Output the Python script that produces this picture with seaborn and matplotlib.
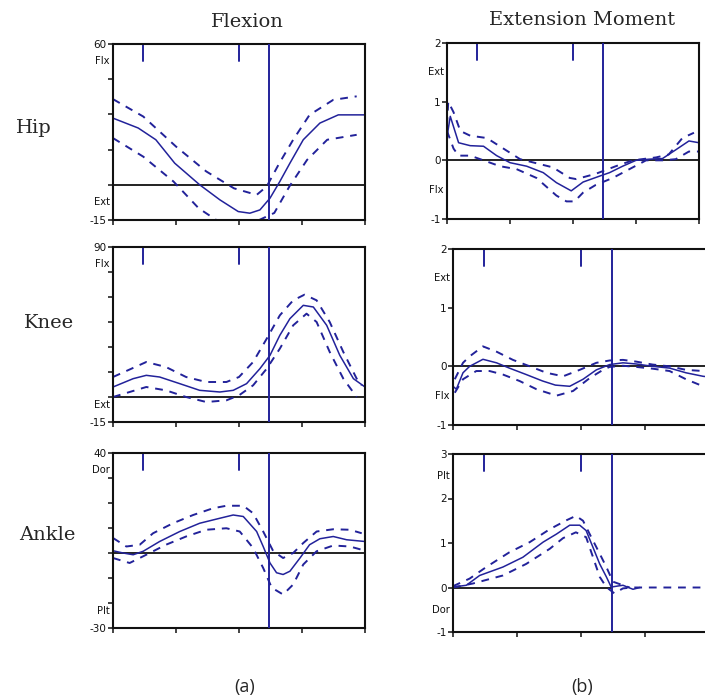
import numpy as np
import pandas as pd
import seaborn as sns
import matplotlib
matplotlib.use("Agg")
import matplotlib.pyplot as plt
import matplotlib.transforms as mtransforms

sns.set_style("white")
plt.rcParams["font.family"] = ["DejaVu Sans"]

NAVY = "#22229a"

# ---------------- Hip flexion (deg) ----------------
hip_flex_x_mean = [0, 10, 17, 24.5, 34.4, 42.4, 49.7, 54.3, 58.3, 62.3, 66.2, 70.2, 75.5, 82.1, 89.4, 100]
hip_flex_mean = [28.4, 24.2, 19.2, 9.2, 0.0, -6.4, -11.4, -12.1, -10.7, -5.7, 1.4, 9.2, 19.2, 26.3, 29.8, 29.8]
hip_flex_x_hi = [0, 12, 25, 37, 48, 57, 61, 66, 71.5, 78, 87.4, 96.7]
hip_flex_hi = [36.5, 29.1, 16.3, 5.7, -1.5, -4.3, -0.7, 9.2, 19.2, 29.8, 36.2, 37.7]
hip_flex_x_lo = [0, 12, 24, 34, 41, 50, 58, 64, 70, 77, 85, 96.7]
hip_flex_lo = [19.9, 12.0, 1.4, -10.0, -15.0, -15.0, -15.0, -12.0, -0.7, 10.6, 19.2, 21.3]

# ---------------- Hip moment ----------------
hip_mom_x_mean = [0, 1.3, 4.6, 9.2, 14.5, 19.7, 25, 31.6, 38.2, 43.4, 49.3, 54, 60.5, 64.5, 69.7, 75, 80.3, 85.5, 90.8, 96, 100]
hip_mom_mean = [0.4, 0.75, 0.3, 0.25, 0.24, 0.08, -0.04, -0.1, -0.21, -0.38, -0.52, -0.37, -0.27, -0.21, -0.1, 0.0, 0.02, 0.03, 0.18, 0.33, 0.3]
hip_mom_x_hi = [0, 0.5, 2.6, 5.3, 9.2, 15.8, 22.4, 29, 35.5, 42, 48.7, 51.3, 59, 67, 73.7, 83, 88, 93.4, 98]
hip_mom_hi = [0.6, 1.0, 0.82, 0.5, 0.42, 0.38, 0.2, 0.02, -0.05, -0.12, -0.3, -0.32, -0.23, -0.1, 0.0, 0.05, 0.1, 0.38, 0.47]
hip_mom_x_lo = [0, 2.6, 4.6, 9.2, 14.5, 21, 27.6, 35.5, 43.4, 47.4, 50.6, 54, 59, 65.8, 72.4, 79, 85.5, 90.8, 96, 100]
hip_mom_lo = [0.5, 0.2, 0.08, 0.08, 0.0, -0.1, -0.15, -0.3, -0.6, -0.7, -0.7, -0.55, -0.42, -0.3, -0.15, 0.0, 0.0, 0.02, 0.15, 0.15]

# ---------------- Knee flexion (deg) ----------------
knee_flex_x_mean = [0, 8, 13.2, 18.5, 26.5, 34.4, 42.4, 47.7, 53, 58.3, 62.3, 66.2, 70.2, 75.5, 79.5, 84.8, 90, 95.4, 100]
knee_flex_mean = [6, 11, 13, 12, 8, 4, 3, 4, 8, 17, 25, 37, 47, 55, 54, 43, 25, 11, 6]
knee_flex_x_hi = [0, 13.2, 21, 29, 37, 45, 50, 55.6, 61, 66.2, 71.5, 76, 80.8, 86, 91.4, 96.7, 98.7]
knee_flex_hi = [12, 21, 18, 12, 9, 9, 12, 21, 35, 49, 58, 61.4, 58, 45, 27, 11, 7]
knee_flex_x_lo = [0, 13.2, 21, 29, 37, 45, 50, 55.6, 61, 66.2, 71.5, 76.8, 80.8, 86, 91.4, 96.7]
knee_flex_lo = [0, 6, 4, 0, -3, -2, 1, 7, 17, 29, 43, 50, 45, 27, 11, 0]

# ---------------- Knee moment ----------------
knee_mom_x_mean = [0, 1.3, 3.9, 6.5, 11.7, 17, 22, 28.6, 35, 40, 45.6, 50.8, 56, 61.2, 66.4, 71.6, 78, 84.6, 91, 97.7, 100]
knee_mom_mean = [-0.34, -0.39, -0.11, 0.0, 0.12, 0.06, -0.03, -0.14, -0.25, -0.32, -0.34, -0.22, -0.06, 0.03, 0.06, 0.04, 0.0, -0.03, -0.11, -0.17, -0.18]
knee_mom_x_hi = [0.7, 3.9, 6.5, 11.7, 17, 23.4, 30, 36.5, 43, 49.5, 56, 61.2, 66.4, 71.6, 78, 84.6, 91, 97.7, 100]
knee_mom_hi = [-0.22, 0.06, 0.17, 0.34, 0.25, 0.11, 0.0, -0.11, -0.17, -0.06, 0.06, 0.1, 0.11, 0.08, 0.03, 0.0, -0.06, -0.08, -0.1]
knee_mom_x_lo = [0.7, 3.9, 9.1, 14.3, 19.5, 26, 32.6, 40.4, 46.9, 53.4, 58.6, 61.2, 66.4, 71.6, 78, 84.6, 91, 97.7, 100]
knee_mom_lo = [-0.45, -0.22, -0.08, -0.08, -0.14, -0.25, -0.39, -0.5, -0.42, -0.2, -0.06, -0.01, 0.01, -0.01, -0.04, -0.08, -0.22, -0.34, -0.36]

# ---------------- Ankle flexion (deg) ----------------
ankle_flex_x_mean = [0, 4, 8, 12, 18.5, 26.5, 34.4, 42.4, 47.7, 51.7, 57, 59.6, 62.3, 64.9, 67.5, 70.2, 74.2, 78, 82.1, 87.4, 92.7, 100]
ankle_flex_mean = [0.9, 0.0, -0.7, 0.7, 4.6, 8.6, 11.9, 13.9, 15.2, 14.6, 8.6, 2.6, -4.0, -7.9, -8.6, -7.3, -2.0, 3.3, 5.7, 6.6, 5.3, 4.6]
ankle_flex_x_hi = [0, 5.3, 10.6, 15.9, 23.8, 31.8, 39.7, 45, 51.7, 55.6, 59.6, 63.6, 67.5, 71.5, 75.5, 80.8, 87.4, 94, 98.7]
ankle_flex_hi = [6, 2.6, 3.3, 7.9, 11.9, 15.2, 17.9, 18.9, 18.9, 15.9, 8.6, 0.7, -2.0, 0.0, 4.0, 8.6, 9.5, 9.3, 7.9]
ankle_flex_x_lo = [0, 6.6, 13.2, 21, 29, 37, 45, 50.3, 55.6, 59.6, 63, 67.5, 71.5, 75.5, 80.8, 87.4, 94, 98.7]
ankle_flex_lo = [-2, -4, -0.7, 3.3, 6.6, 9.3, 9.9, 8.6, 2.0, -6.0, -13.9, -16.6, -12.6, -4.6, 0.7, 3.0, 2.6, 1.3]

# ---------------- Ankle moment ----------------
ankle_mom_x_mean = [0, 5.2, 10.4, 19.5, 27.3, 35.2, 40.4, 45.6, 49.5, 52, 54.7, 57.3, 59.9, 61.8, 64, 66.4, 70.3, 73]
ankle_mom_mean = [0.01, 0.05, 0.27, 0.46, 0.68, 1.02, 1.2, 1.4, 1.4, 1.28, 0.9, 0.53, 0.24, 0.01, 0.03, 0.05, -0.04, 0.0]
ankle_mom_x_hi = [0, 6.5, 13, 22, 30, 37.8, 44.3, 48, 50.8, 53.4, 57.3, 59.9, 62.5, 66.4, 69]
ankle_mom_hi = [0.03, 0.2, 0.46, 0.79, 1.02, 1.31, 1.51, 1.61, 1.5, 1.2, 0.76, 0.46, 0.13, 0.05, 0.0]
ankle_mom_x_lo = [0, 7.8, 19.5, 28.6, 37.8, 43, 48, 52, 54.7, 57.3, 59.9, 63, 66.4, 70, 73, 100]
ankle_mom_lo = [0.0, 0.09, 0.27, 0.53, 0.87, 1.11, 1.24, 1.13, 0.68, 0.24, 0.01, -0.13, -0.02, 0.0, 0.0, 0.0]

# Gait events (% cycle): opposite toe off, opposite foot contact, toe off
event_ticks = [12, 50]
toe_off = 62

W, H = 705, 700


def add_panel(box):
    l, r, t, b = box
    return fig.add_axes([l / W, 1 - b / H, (r - l) / W, (b - t) / H])


def curve(ax, xs, ys, dashed=False):
    df = pd.DataFrame({"x": xs, "y": ys})
    if dashed:
        sns.lineplot(data=df, x="x", y="y", ax=ax, color=NAVY, lw=1.4,
                     linestyle=(0, (4, 3.5)), sort=False, estimator=None)
    else:
        sns.lineplot(data=df, x="x", y="y", ax=ax, color=NAVY, lw=1.1,
                     sort=False, estimator=None)


def style_axes(ax, ylim, yticks, ticklabels, zero_until=100):
    ax.set_xlim(0, 100)
    ax.set_ylim(*ylim)
    ax.set_xticks([0, 25, 50, 75, 100])
    ax.set_xticklabels([])
    ax.set_yticks(yticks)
    ax.set_yticklabels(ticklabels, fontsize=7.5, family="DejaVu Sans")
    ax.set_xlabel("")
    ax.set_ylabel("")
    for s in ax.spines.values():
        s.set_visible(True)
        s.set_color("#111111")
        s.set_linewidth(1.5)
    ax.tick_params(axis="both", direction="out", length=3.5, width=1.1,
                   color="#111111", pad=1, labelcolor="#111111",
                   left=True, bottom=True)
    ax.hlines(0, 0, zero_until, color="#111111", lw=1.3, zorder=1)
    ax.axvline(toe_off, color=NAVY, lw=1.4, zorder=3)
    for e in event_ticks:
        ax.axvline(e, ymin=0.905, ymax=1, color=NAVY, lw=1.4)


def side_label(ax, yfrac, text):
    trans = mtransforms.blended_transform_factory(ax.transAxes, ax.transAxes)
    ax.text(-0.012, yfrac, text, transform=trans, ha="right", va="center",
            fontsize=7.2, color="#111111")


def side_label_data(ax, yval, text):
    trans = mtransforms.blended_transform_factory(ax.transAxes, ax.transData)
    ax.text(-0.012, yval, text, transform=trans, ha="right", va="center",
            fontsize=7.2, color="#111111")


fig = plt.figure(figsize=(W / 100, H / 100), dpi=100)
fig.patch.set_facecolor("white")

# Left column: joint angles
ax = add_panel((113, 365, 44, 220))
curve(ax, hip_flex_x_mean, hip_flex_mean)
curve(ax, hip_flex_x_hi, hip_flex_hi, dashed=True)
curve(ax, hip_flex_x_lo, hip_flex_lo, dashed=True)
style_axes(ax, (-15, 60), [-15, 0, 15, 30, 45, 60], ["-15", "", "", "", "", "60"])
side_label(ax, 0.905, "Flx")
side_label(ax, 0.10, "Ext")

ax = add_panel((113, 365, 247, 422))
curve(ax, knee_flex_x_mean, knee_flex_mean)
curve(ax, knee_flex_x_hi, knee_flex_hi, dashed=True)
curve(ax, knee_flex_x_lo, knee_flex_lo, dashed=True)
style_axes(ax, (-15, 90), [-15, 0, 15, 30, 45, 60, 75, 90],
           ["-15", "", "", "", "", "", "", "90"])
side_label(ax, 0.905, "Flx")
side_label(ax, 0.10, "Ext")

ax = add_panel((113, 365, 453, 628))
curve(ax, ankle_flex_x_mean, ankle_flex_mean)
curve(ax, ankle_flex_x_hi, ankle_flex_hi, dashed=True)
curve(ax, ankle_flex_x_lo, ankle_flex_lo, dashed=True)
style_axes(ax, (-30, 40), [-30, -20, -10, 0, 10, 20, 30, 40],
           ["-30", "", "", "", "", "", "", "40"])
side_label(ax, 0.905, "Dor")
side_label(ax, 0.10, "Plt")

# Right column: joint moments
ax = add_panel((447, 699, 43, 219))
curve(ax, hip_mom_x_mean, hip_mom_mean)
curve(ax, hip_mom_x_hi, hip_mom_hi, dashed=True)
curve(ax, hip_mom_x_lo, hip_mom_lo, dashed=True)
style_axes(ax, (-1, 2), [-1, 0, 1, 2], ["-1", "0", "1", "2"])
side_label_data(ax, 1.5, "Ext")
side_label_data(ax, -0.5, "Flx")

ax = add_panel((453, 709, 249, 425))
curve(ax, knee_mom_x_mean, knee_mom_mean)
curve(ax, knee_mom_x_hi, knee_mom_hi, dashed=True)
curve(ax, knee_mom_x_lo, knee_mom_lo, dashed=True)
style_axes(ax, (-1, 2), [-1, 0, 1, 2], ["-1", "0", "1", "2"])
side_label_data(ax, 1.5, "Ext")
side_label_data(ax, -0.5, "Flx")

ax = add_panel((453, 709, 454, 632))
curve(ax, ankle_mom_x_mean, ankle_mom_mean)
curve(ax, ankle_mom_x_hi, ankle_mom_hi, dashed=True)
curve(ax, ankle_mom_x_lo, ankle_mom_lo, dashed=True)
style_axes(ax, (-1, 3), [-1, 0, 1, 2, 3], ["-1", "0", "1", "2", "3"], zero_until=toe_off)
side_label_data(ax, 2.5, "Plt")
side_label_data(ax, -0.5, "Dor")

# Column titles, row labels, captions
serif = "DejaVu Serif"
fig.text(247 / W, 1 - 22 / H, "Flexion", ha="center", va="center", fontsize=14, family=serif)
fig.text(582 / W, 1 - 20 / H, "Extension Moment", ha="center", va="center", fontsize=14, family=serif)
fig.text(34 / W, 1 - 128 / H, "Hip", ha="center", va="center", fontsize=14, family=serif)
fig.text(49 / W, 1 - 323 / H, "Knee", ha="center", va="center", fontsize=14, family=serif)
fig.text(47 / W, 1 - 535 / H, "Ankle", ha="center", va="center", fontsize=14, family=serif)
fig.text(245 / W, 1 - 687 / H, "(a)", ha="center", va="center", fontsize=13, family="Open Sans")
fig.text(582 / W, 1 - 687 / H, "(b)", ha="center", va="center", fontsize=13, family="Open Sans")

fig.savefig("out.png", dpi=100, facecolor="white")
